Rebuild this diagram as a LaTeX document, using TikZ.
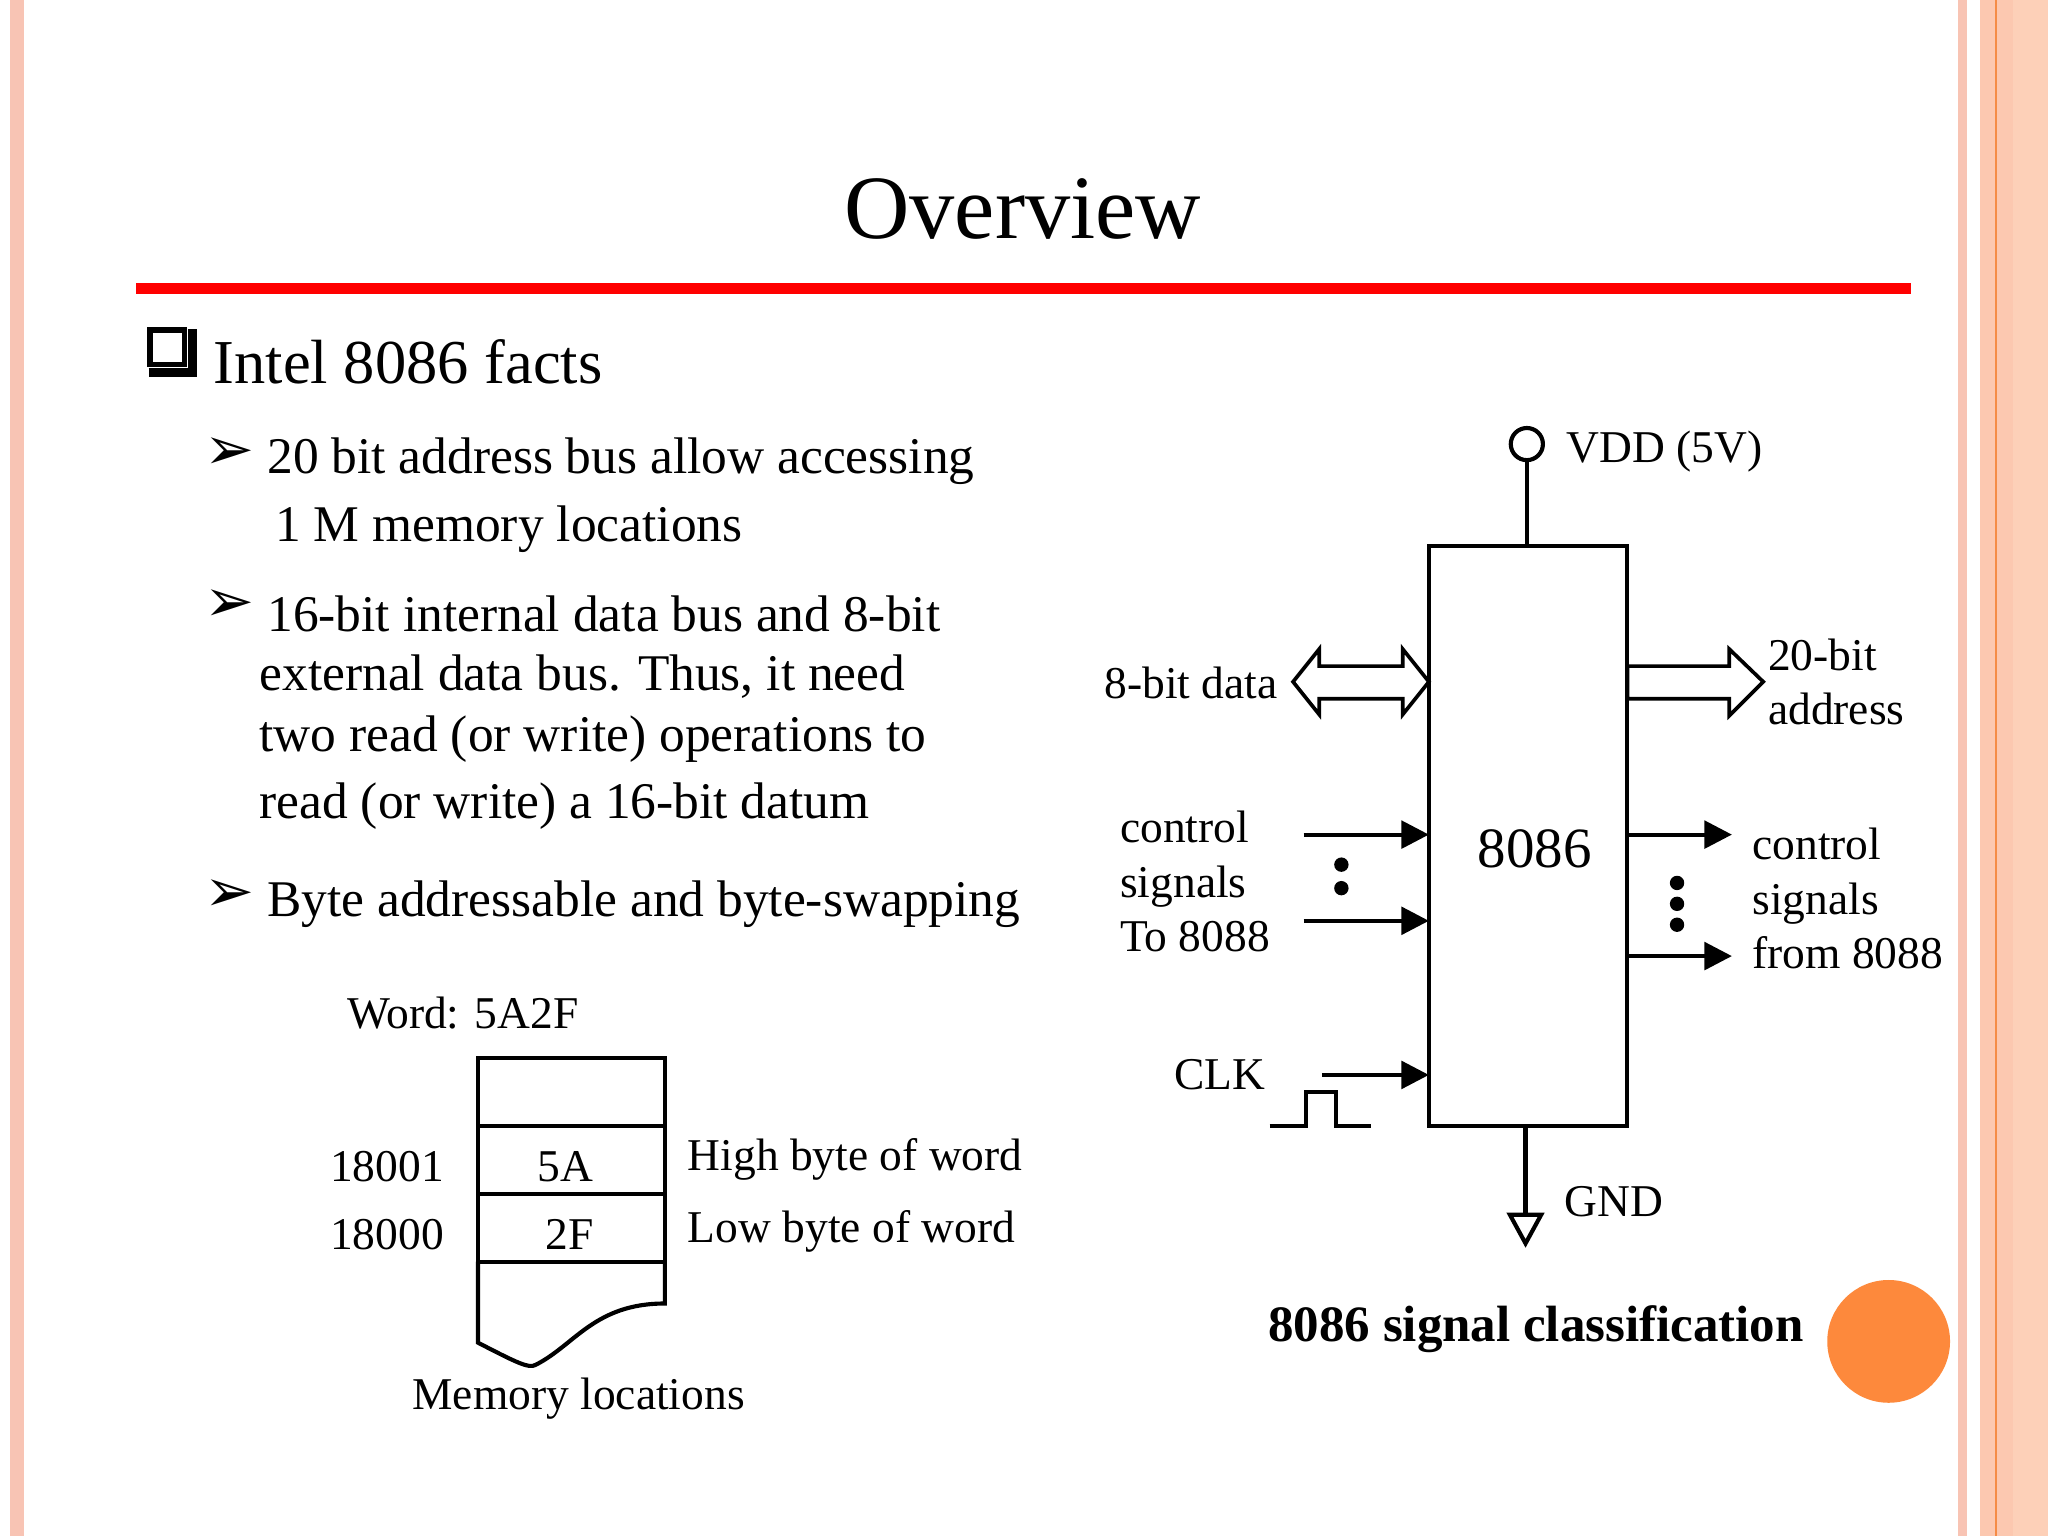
\documentclass[tikz,border=0pt]{standalone}
\usepackage{fontspec}
\setmainfont{Liberation Serif}
\newfontfamily\sym{DejaVu Sans}
\usetikzlibrary{arrows.meta}
\definecolor{pk}{RGB}{248,196,180}
\definecolor{pc}{RGB}{252,200,176}
\definecolor{pl}{RGB}{253,208,184}
\definecolor{orl}{RGB}{245,140,70}
\definecolor{circ}{RGB}{253,137,60}
\tikzset{
 lt/.style={anchor=west,inner sep=0,font=\fontsize{11.2pt}{14pt}\selectfont},
 ab/.style={inner sep=0,font=\sym\fontsize{13pt}{14pt}\selectfont},
 dg/.style={inner sep=0,font=\fontsize{9.9pt}{11.8pt}\selectfont},
 ln/.style={line width=0.9pt},
 arr/.style={ln,-{Triangle[length=6pt,width=6pt]}},
 barrow/.style={draw,line width=0.8pt,fill=white}
}
\begin{document}
\begin{tikzpicture}[x=0.01cm,y=-0.01cm]
\useasboundingbox (0,0) rectangle (1568,1176);
\fill[white] (0,0) rectangle (1568,1176);
% borders
\fill[pk] (8,0) rectangle (18,1176);
\fill[pk] (1499,0) rectangle (1506,1176);
\fill[pc] (1516,0) rectangle (1541,1176);
\fill[orl] (1527.5,0) rectangle (1529,1176);
\fill[pl] (1541,0) rectangle (1568,1176);
% title
\node[inner sep=0,font=\fontsize{19.7pt}{24pt}\selectfont] (title) at (783,160) {Overview};
\fill[red] (104,217) rectangle (1463,225);
% bullets
\node[draw,line width=1.2pt,minimum size=7.5pt,inner sep=0,fill=white] (sq) at (128,266) {};
\draw[line width=1.8pt] ([shift={(1,4)}]sq.south west) -| ([shift={(4,1)}]sq.north east);
\node[lt,font=\fontsize{13.6pt}{16pt}\selectfont] (h1) at (163,277) {Intel 8086 facts};
\node[ab] (a1) at (176,347) {➢};
\node[lt] (t1) at (204,353) {20 bit address bus allow accessing};
\node[lt] (t1b) at (210,405) {1 M memory locations};
\node[ab] (a2) at (176,464) {➢};
\node[lt] (t2) at (204,470) {16-bit internal data bus and 8-bit};
\node[lt] (t2b) at (198,518) {external data bus. Thus, it need};
\node[lt] (t2c) at (198,566) {two read (or write) operations to};
\node[lt] (t2d) at (198,617) {read (or write) a 16-bit datum};
\node[ab] (a3) at (176,686) {➢};
\node[lt] (t3) at (204,692) {Byte addressable and byte-swapping};
% memory
\node[dg,anchor=west] (word) at (265,776) {Word: 5A2F};
\draw[ln] (366,862) -- (366,810) -- (509,810) -- (509,862);
\draw[ln] (366,862) rectangle (509,914);
\draw[ln] (366,914) rectangle (509,966);
\draw[ln] (366,966) -- (366,1028) .. controls (395,1043) and (405,1048) .. (410,1045)
  .. controls (440,1030) and (455,998) .. (509,998) -- (509,966);
\node[dg] (v5a) at (433,893) {5A};
\node[dg] (v2f) at (436,945) {2F};
\node[dg,anchor=west] (n1) at (252,893) {18001};
\node[dg,anchor=west] (n0) at (252,945) {18000};
\node[dg,anchor=west] (hb) at (526,888) {High byte of word};
\node[dg,anchor=west] (lb) at (526,943) {Low byte of word};
\node[dg] (ml) at (443,1071) {Memory locations};
% chip
\draw[ln] (1094,418) rectangle (1246,862);
\node[inner sep=0,font=\fontsize{12.4pt}{15pt}\selectfont] (chip) at (1175,650) {8086};
\draw[ln] (1169,418) -- (1169,352);
\node[draw,circle,ln,minimum size=7pt,inner sep=0,fill=white] (vdd) at (1169,340) {};
\node[dg,anchor=west] (vddt) at (1199,346) {VDD (5V)};
\draw[ln] (1168,862) -- (1168,930);
\draw[ln,fill=white] (1156,930) -- (1180,930) -- (1168,952) -- cycle;
\node[dg,anchor=west] (gnd) at (1197,920) {GND};
% 8-bit data double arrow
\draw[barrow] (1094,522) -- (1074,497) -- (1074,510) -- (1010,510) -- (1010,497) -- (990,522)
 -- (1010,547) -- (1010,535) -- (1074,535) -- (1074,547) -- cycle;
\node[dg,anchor=west] (d8) at (845,523) {8-bit data};
% 20-bit address
\draw[barrow] (1246,510) -- (1324,510) -- (1324,497) -- (1350,522) -- (1324,548) -- (1324,535) -- (1246,535) -- cycle;
\node[dg,anchor=west,align=left] (ad) at (1353,522) {20-bit\\address};
% control in
\coordinate (ci1) at (998,639);
\coordinate (ci2) at (998,705);
\draw[arr] (ci1) -- (1094,639);
\draw[arr] (ci2) -- (1094,705);
\fill (1027,662) circle (5.5); \fill (1027,680) circle (5.5);
\node[dg,anchor=west,align=left] (cin) at (857,675) {control\\signals\\To 8088};
% control out
\coordinate (co1) at (1326,639);
\coordinate (co2) at (1326,732);
\draw[arr] (1246,639) -- (co1);
\draw[arr] (1246,732) -- (co2);
\fill (1284,676) circle (5.5); \fill (1284,692) circle (5.5); \fill (1284,708) circle (5.5);
\node[dg,anchor=west,align=left] (cout) at (1341,688) {control\\signals\\from 8088};
% clk
\coordinate (ck) at (1012,823);
\draw[arr] (ck) -- (1094,823);
\node[dg] (clk) at (934,823) {CLK};
\draw[ln] (972,862) -- (1000,862) -- (1000,836) -- (1023,836) -- (1023,862) -- (1050,862);
% caption
\node[inner sep=0,font=\bfseries\fontsize{11.1pt}{14pt}\selectfont] (cap) at (1176,1018) {8086 signal classification};
\fill[circ] (1446,1027) circle (47);
\end{tikzpicture}
\end{document}
